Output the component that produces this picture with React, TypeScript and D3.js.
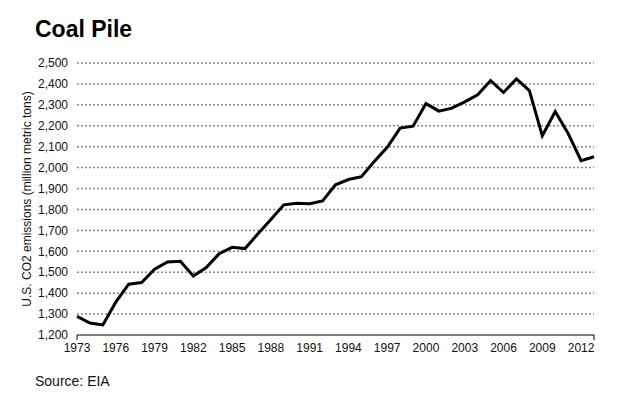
import React from "react";
import * as d3 from "d3";

const years = d3.range(1973, 2014);
const emissions = [
  1289, 1257, 1248, 1357, 1443, 1451, 1514, 1549, 1552, 1482,
  1522, 1589, 1619, 1613, 1684, 1752, 1822, 1830, 1827, 1841,
  1918, 1943, 1957, 2029, 2097, 2189, 2198, 2306, 2270, 2284,
  2314, 2348, 2416, 2359, 2424, 2368, 2152, 2268, 2163, 2033,
  2052,
];
const yTicks = d3.range(1200, 2501, 100);
const xTicks = d3.range(1973, 2013, 3);

const W = 630, H = 400;
const M = { left: 77, right: 36, top: 63, bottom: 65 };

export default function App() {
  const x = d3.scaleLinear().domain([1973, 2013]).range([M.left, W - M.right]);
  const y = d3.scaleLinear().domain([1200, 2500]).range([H - M.bottom, M.top]);
  const data = years.map((yr, i) => ({ yr, v: emissions[i] }));
  const line = d3.line<{ yr: number; v: number }>().x(d => x(d.yr)).y(d => y(d.v));
  const fmt = d3.format(",");
  const font = "'Liberation Sans', Arial, Helvetica, sans-serif";
  return (
    <svg width={W} height={H} style={{ position: "absolute", left: 0, top: 0, background: "#fff" }} fontFamily={font}>
      <text x={35} y={37} fontSize={23} fontWeight="bold" fill="#000">Coal Pile</text>
      {yTicks.map(t => (
        <g key={t}>
          {t > 1200 && (
            <line x1={x(1973)} x2={x(2013)} y1={y(t)} y2={y(t)} stroke="#888" strokeWidth={1.5} strokeDasharray="2,2" />
          )}
          <text x={68} y={y(t)} dy="0.35em" textAnchor="end" fontSize={12} fill="#111">{fmt(t)}</text>
        </g>
      ))}
      <line x1={x(1973)} x2={x(2013)} y1={y(1200)} y2={y(1200)} stroke="#000" strokeWidth={1} />
      <line x1={x(1973)} x2={x(1973)} y1={y(1200)} y2={y(1200) + 5} stroke="#000" strokeWidth={1} />
      <line x1={x(2013)} x2={x(2013)} y1={y(1200)} y2={y(1200) + 5} stroke="#000" strokeWidth={1} />
      {xTicks.map(t => (
        <text key={t} x={x(t)} y={y(1200) + 17} textAnchor="middle" fontSize={12} fill="#111">{t}</text>
      ))}
      <text transform={`translate(31,${(y(1200) + y(2500)) / 2}) rotate(-90)`} textAnchor="middle" fontSize={12} fill="#111">
        U.S. CO2 emissions (million metric tons)
      </text>
      <path d={line(data) || ""} fill="none" stroke="#000" strokeWidth={3} strokeLinejoin="miter" />
      <text x={35} y={386} fontSize={14} fill="#111">Source: EIA</text>
    </svg>
  );
}
